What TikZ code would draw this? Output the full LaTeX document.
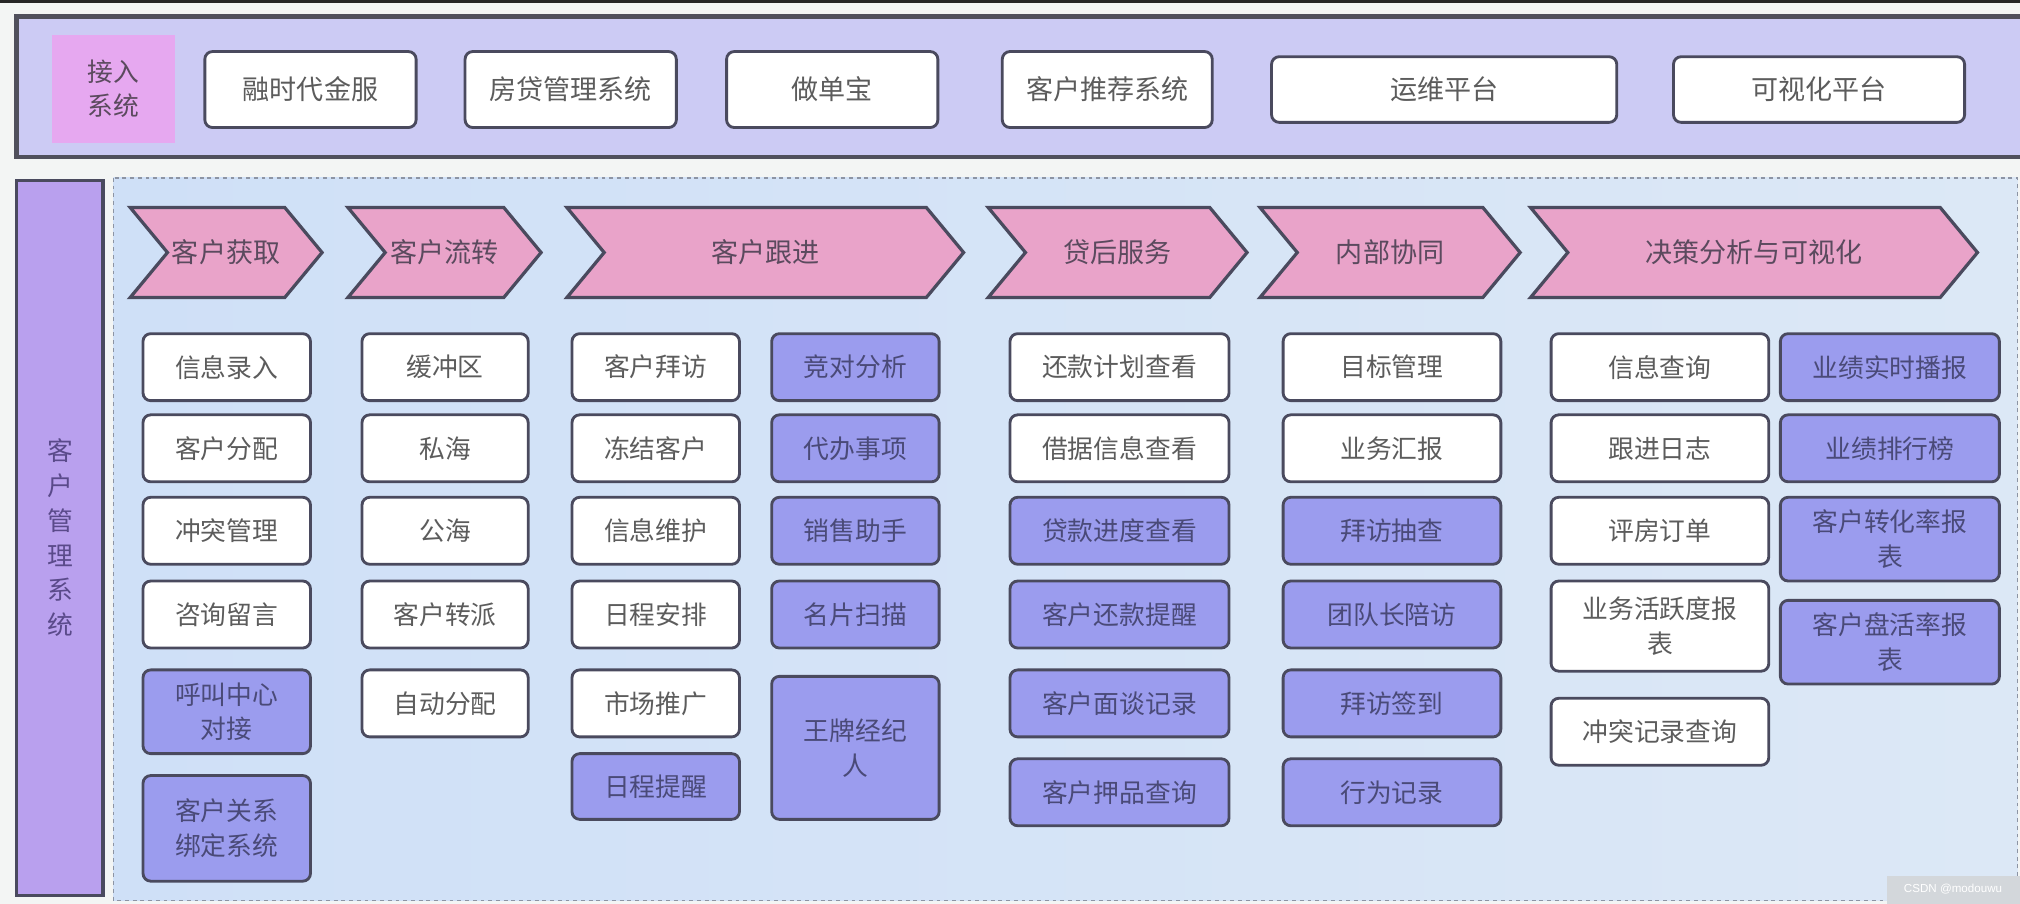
\documentclass[tikz,border=0pt]{standalone}
\usepackage{fontspec}
\setmainfont{Noto Sans CJK SC}
\newfontfamily\wmfont{Liberation Sans}
\definecolor{pagebg}{HTML}{F3F5F4}
\definecolor{bandfill}{HTML}{CCCBF4}
\definecolor{bandline}{HTML}{50505C}
\definecolor{accessfill}{HTML}{E6A8F0}
\definecolor{sidefill}{HTML}{B9A0EE}
\definecolor{contleft}{HTML}{CFE0F7}
\definecolor{contright}{HTML}{DCE8F6}
\definecolor{contline}{HTML}{8C94A4}
\definecolor{chevfill}{HTML}{E9A3C9}
\definecolor{boxline}{HTML}{4A4A5E}
\definecolor{bluefill}{HTML}{9B9CEE}
\definecolor{graytext}{HTML}{5C5C5C}
\definecolor{bluetext}{HTML}{4A4A78}
\definecolor{chevtextc}{HTML}{5B4A5E}
\definecolor{sidetext}{HTML}{5A4A8A}
\definecolor{wmbg}{HTML}{D3D7DB}
\tikzset{
  wbox/.style={draw=boxline, line width=2.2pt, rounded corners=6pt, fill=white,
    text=graytext, font=\fontsize{20}{27}\selectfont, align=center, inner sep=0pt},
  bbox/.style={wbox, fill=bluefill, text=bluetext},
  tbox/.style={wbox, font=\fontsize{21}{27}\selectfont},
  chev/.style={fill=chevfill, draw=boxline, line width=2.5pt, line join=miter},
  chevtext/.style={text=chevtextc, font=\fontsize{21}{27}\selectfont, inner sep=0pt},
}
\newcommand\bx[7]{\node[#2, minimum width={(#5-#3)*1pt}, minimum height={(#6-#4)*1pt}] (#1) at ({(#3+#5)/2},{(#4+#6)/2}) {#7};}
\newcommand\chv[4]{%
  \draw[chev] (#2,161) -- ({#3-29},161) -- (#3,196) -- ({#3-29},231) -- (#2,231) -- ({#2+29},196) -- cycle;
  \node[chevtext] (#1) at ({(#2+#3)/2},196) {#4};}
\begin{document}
\begin{tikzpicture}[x=1pt,y=-1pt]
\useasboundingbox (0,0) rectangle (1568,701.7);
\clip (0,0) rectangle (1568,701.7);
\fill[pagebg] (0,0) rectangle (1568,701.7);
\fill[black!85] (0,0) rectangle (1568,2);
% top band
\draw[line width=3.5pt, draw=bandline, fill=bandfill] (13,13) rectangle (1590,122);
\node[fill=accessfill, minimum width=96pt, minimum height=84pt, inner sep=0pt, align=center,
  text=chevtextc, font=\fontsize{20}{26}\selectfont] (acc) at (88,69) {接入\\系统};
\bx{t1}{tbox}{159}{40}{323}{99}{融时代金服}
\bx{t2}{tbox}{361}{40}{525}{99}{房贷管理系统}
\bx{t3}{tbox}{564}{40}{728}{99}{做单宝}
\bx{t4}{tbox}{778}{40}{941}{99}{客户推荐系统}
\bx{t5}{tbox}{987}{44}{1255}{95}{运维平台}
\bx{t6}{tbox}{1299}{44}{1525}{95}{可视化平台}
% side label
\node[draw=boxline, line width=2.5pt, fill=sidefill, minimum width=67pt, minimum height=555pt,
  inner sep=0pt, align=center, text=sidetext, font=\fontsize{20}{27}\selectfont] (side) at (46.5,417.5)
  {客\\户\\管\\理\\系\\统};
% container
\draw[dashed, draw=contline, line width=1.2pt, left color=contleft, right color=contright] (88,138) rectangle (1566,699);
% chevrons
\chv{hd1}{101}{250}{客户获取}
\chv{hd2}{270}{420}{客户流转}
\chv{hd3}{440}{748}{客户跟进}
\chv{hd4}{767}{968}{贷后服务}
\chv{hd5}{978}{1180}{内部协同}
\chv{hd6}{1188}{1535}{决策分析与可视化}
% column 1
\bx{a1}{wbox}{111}{259}{241}{311}{信息录入}
\bx{a2}{wbox}{111}{322}{241}{374}{客户分配}
\bx{a3}{wbox}{111}{386}{241}{438}{冲突管理}
\bx{a4}{wbox}{111}{451}{241}{503}{咨询留言}
\bx{a5}{bbox}{111}{520}{241}{585}{呼叫中心\\对接}
\bx{a6}{bbox}{111}{602}{241}{684}{客户关系\\绑定系统}
% column 2
\bx{b1}{wbox}{281}{259}{410}{311}{缓冲区}
\bx{b2}{wbox}{281}{322}{410}{374}{私海}
\bx{b3}{wbox}{281}{386}{410}{438}{公海}
\bx{b4}{wbox}{281}{451}{410}{503}{客户转派}
\bx{b5}{wbox}{281}{520}{410}{572}{自动分配}
% column 3
\bx{c1}{wbox}{444}{259}{574}{311}{客户拜访}
\bx{c2}{wbox}{444}{322}{574}{374}{冻结客户}
\bx{c3}{wbox}{444}{386}{574}{438}{信息维护}
\bx{c4}{wbox}{444}{451}{574}{503}{日程安排}
\bx{c5}{wbox}{444}{520}{574}{572}{市场推广}
\bx{c6}{bbox}{444}{585}{574}{636}{日程提醒}
\bx{d1}{bbox}{599}{259}{729}{311}{竞对分析}
\bx{d2}{bbox}{599}{322}{729}{374}{代办事项}
\bx{d3}{bbox}{599}{386}{729}{438}{销售助手}
\bx{d4}{bbox}{599}{451}{729}{503}{名片扫描}
\bx{d5}{bbox}{599}{525}{729}{636}{王牌经纪\\人}
% column 4
\bx{e1}{wbox}{784}{259}{954}{311}{还款计划查看}
\bx{e2}{wbox}{784}{322}{954}{374}{借据信息查看}
\bx{e3}{bbox}{784}{386}{954}{438}{贷款进度查看}
\bx{e4}{bbox}{784}{451}{954}{503}{客户还款提醒}
\bx{e5}{bbox}{784}{520}{954}{572}{客户面谈记录}
\bx{e6}{bbox}{784}{589}{954}{641}{客户押品查询}
% column 5
\bx{f1}{wbox}{996}{259}{1165}{311}{目标管理}
\bx{f2}{wbox}{996}{322}{1165}{374}{业务汇报}
\bx{f3}{bbox}{996}{386}{1165}{438}{拜访抽查}
\bx{f4}{bbox}{996}{451}{1165}{503}{团队长陪访}
\bx{f5}{bbox}{996}{520}{1165}{572}{拜访签到}
\bx{f6}{bbox}{996}{589}{1165}{641}{行为记录}
% column 6
\bx{g1}{wbox}{1204}{259}{1373}{311}{信息查询}
\bx{g2}{wbox}{1204}{322}{1373}{374}{跟进日志}
\bx{g3}{wbox}{1204}{386}{1373}{438}{评房订单}
\bx{g4}{wbox}{1204}{451}{1373}{521}{业务活跃度报\\表}
\bx{g5}{wbox}{1204}{542}{1373}{594}{冲突记录查询}
\bx{h1}{bbox}{1382}{259}{1552}{311}{业绩实时播报}
\bx{h2}{bbox}{1382}{322}{1552}{374}{业绩排行榜}
\bx{h3}{bbox}{1382}{386}{1552}{451}{客户转化率报\\表}
\bx{h4}{bbox}{1382}{466}{1552}{531}{客户盘活率报\\表}
% watermark
\fill[wmbg] (1465,680) rectangle (1568,702);
\node[text=white, font=\wmfont\fontsize{9}{10}\selectfont, inner sep=0pt] (wm) at (1516,690) {CSDN @modouwu};
\end{tikzpicture}
\end{document}
